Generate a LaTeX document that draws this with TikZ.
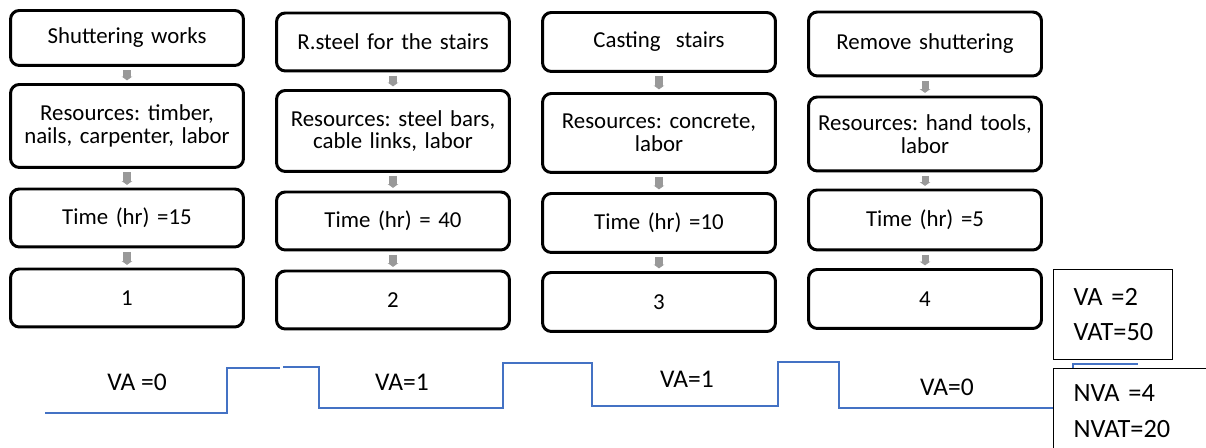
\documentclass[tikz,border=0pt]{standalone}
\usepackage{fontspec}
\setmainfont{Carlito}
\frenchspacing
\usetikzlibrary{arrows.meta, calc}

\definecolor{stepblue}{RGB}{68,114,196}

\begin{document}
\begin{tikzpicture}[x=0.02cm, y=-0.02cm, >=Triangle,
    stepbox/.style={draw, line width=1.7pt, rounded corners=5pt, fill=white,
      minimum width=4.66cm, text width=4.6cm, align=center,
      font=\fontsize{13}{13}\selectfont, inner sep=0pt},
    flowarrow/.style={draw=black!40, line width=4pt,
      shorten <=2pt, shorten >=1.5pt, -{Triangle[width=6pt,length=2.2pt]}},
    countbox/.style={draw, line width=0.8pt, fill=white, align=left,
      anchor=north west, text width=1.58cm, minimum height=1.8cm,
      inner xsep=0.4cm, font=\fontsize{15}{20}\selectfont},
    valabel/.style={font=\fontsize{14.5}{14.5}\selectfont}]
    \useasboundingbox (0,0) rectangle (1206,448);

    % first column
    \node[stepbox, minimum height=1.1cm] (task1) at (127,38) {Shuttering works};
    \node[stepbox, minimum height=1.66cm] (res1) at (127,126)
      {Resources: timber,\\nails, carpenter, labor};
    \node[stepbox, minimum height=1.16cm] (time1) at (127,218) {Time (hr) =15};
    \node[stepbox, minimum height=1.16cm] (num1) at (127,298) {1};

    % second column
    \node[stepbox, minimum height=1.16cm] (task2) at (393,42) {R.steel for the stairs};
    \node[stepbox, minimum height=1.62cm] (res2) at (393,131)
      {Resources: steel bars,\\cable links, labor};
    \node[stepbox, minimum height=1.16cm] (time2) at (393,221) {Time (hr) = 40};
    \node[stepbox, minimum height=1.16cm] (num2) at (393,300) {2};

    % third column
    \node[stepbox, minimum height=1.18cm] (task3) at (659,42) {Casting\ \ stairs};
    \node[stepbox, minimum height=1.58cm] (res3) at (659,133)
      {Resources: concrete,\\labor};
    \node[stepbox, minimum height=1.18cm] (time3) at (659,223) {Time (hr) =10};
    \node[stepbox, minimum height=1.18cm] (num3) at (659,302) {3};

    % fourth column
    \node[stepbox, minimum height=1.28cm] (task4) at (925,44) {Remove shuttering};
    \node[stepbox, minimum height=1.48cm] (res4) at (925,134)
      {Resources: hand tools,\\labor};
    \node[stepbox, minimum height=1.2cm] (time4) at (925,220) {Time (hr) =5};
    \node[stepbox, minimum height=1.18cm] (num4) at (925,299) {4};

    \foreach \i in {1,...,4}{
      \draw[flowarrow] (task\i) -- (res\i);
      \draw[flowarrow] (res\i) -- (time\i);
      \draw[flowarrow] (time\i) -- (num\i);
    }

    % value added steps
    \draw[stepblue, line width=1.1pt]
      (45,413) -- (227,413) -- (227,368) -- (280,368);
    \draw[stepblue, line width=1.1pt]
      (283,367) -- (319,367) -- (319,408) -- (503,408) -- (503,363)
      -- (592,363) -- (592,406) -- (778,406) -- (778,362) -- (839,362)
      -- (839,408) -- (1073,408) -- (1073,364) -- (1138,364);

    \node[valabel] (va1) at (137,382) {VA =0};
    \node[valabel] (va2) at (402,382) {VA=1};
    \node[valabel] (va3) at (687,379) {VA=1};
    \node[valabel] (va4) at (947,387) {VA=0};

    \node[countbox] (vabox) at (1053,269) {VA =2\\VAT=50};
    \node[countbox, text width=3cm, minimum height=1.7cm] (nvabox) at (1053,368)
      {NVA =4\\NVAT=20};
\end{tikzpicture}
\end{document}
